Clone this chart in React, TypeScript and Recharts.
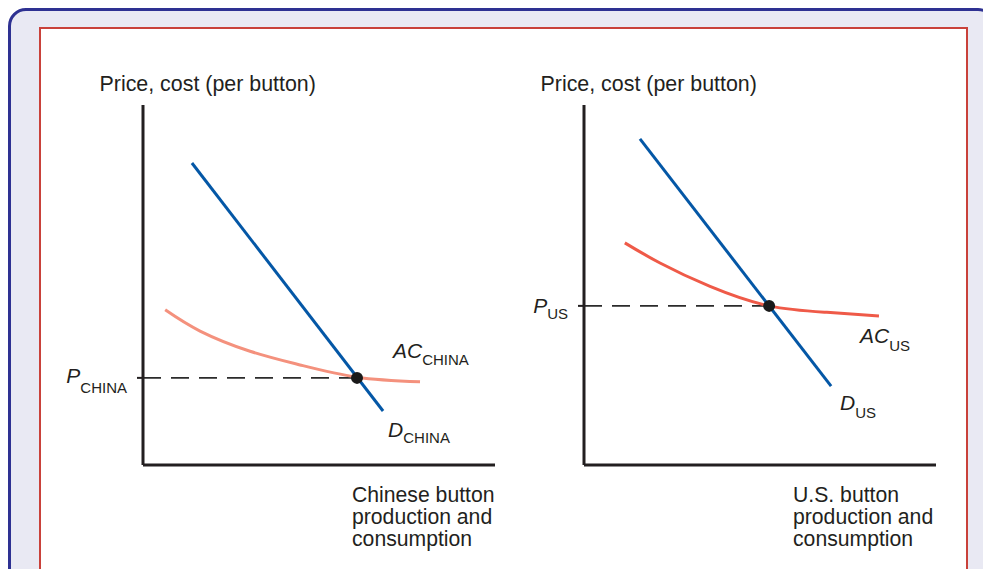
import { LineChart, Line, XAxis, YAxis, ReferenceDot } from "recharts"

// values, on a 0-100 scale for quantity (q) and price (p)
const chinaDemand = [
  { q: 13.9, p: 83.9 },
  { q: 68.2, p: 15.0 },
]
const chinaAvgCost = [
  { q: 6.3, p: 43.1 },
  { q: 16.2, p: 37.2 },
  { q: 30.4, p: 31.6 },
  { q: 44.6, p: 27.8 },
  { q: 60.8, p: 24.4 },
  { q: 78.7, p: 23.1 },
]
const chinaEquilibrium = { q: 60.8, p: 24.2 }

const usDemand = [
  { q: 15.9, p: 90.6 },
  { q: 70.2, p: 21.9 },
]
const usAvgCost = [
  { q: 11.6, p: 61.7 },
  { q: 21.6, p: 56.1 },
  { q: 35.8, p: 49.6 },
  { q: 52.6, p: 44.2 },
  { q: 69.0, p: 42.4 },
  { q: 83.8, p: 41.4 },
]
const usEquilibrium = { q: 52.6, p: 44.2 }

const yTitle = "Price, cost (per button)"
const chinaXTitle = ["Chinese button", "production and", "consumption"]
const usXTitle = ["U.S. button", "production and", "consumption"]

const INK = "#231f20"
const BLUE = "#0457a6"
const FONT = "'Liberation Sans', Arial, Helvetica, sans-serif"

function SubText({ x, y, main, sub, subDy, anchor = "start" }: any) {
  return (
    <text x={x} y={y} textAnchor={anchor} fill={INK} fontFamily={FONT}>
      <tspan fontSize={21} fontStyle="italic">{main}</tspan>
      <tspan fontSize={15} dy={subDy}>{sub}</tspan>
    </text>
  )
}

function Panel({ demand, cost, eq, sub, xTitle, costColor, box, margin, lbl }: any) {
  const priceLine = [
    { q: 0, p: eq.p },
    { q: eq.q, p: eq.p },
  ]
  const costEnd = cost[cost.length - 1]
  const demandEnd = demand[demand.length - 1]

  return (
    <div style={{ position: "absolute", left: box.left, top: box.top }}>
      <LineChart width={box.width} height={box.height} margin={margin} style={{ fontFamily: FONT }}>
        <XAxis
          type="number"
          dataKey="q"
          domain={[0, 100]}
          height={30}
          tick={false}
          tickLine={false}
          axisLine={{ stroke: INK, strokeWidth: 3 }}
          label={(p: any) => {
            const vb = p.viewBox
            return (
              <text x={vb.x + 209} y={vb.y + 37} fill={INK} fontFamily={FONT} fontSize={21.2}>
                {xTitle.map((t: string, i: number) => (
                  <tspan key={i} x={vb.x + 209} dy={i === 0 ? 0 : 22}>{t}</tspan>
                ))}
              </text>
            )
          }}
        />
        <YAxis
          type="number"
          dataKey="p"
          domain={[0, 100]}
          width={60}
          ticks={[eq.p]}
          tickSize={6}
          tickLine={{ stroke: INK, strokeWidth: 2 }}
          axisLine={{ stroke: INK, strokeWidth: 3 }}
          tick={(t: any) => (
            <SubText x={t.x - 8} y={t.y + lbl.pDy} main="P" sub={sub} subDy={lbl.pSub} anchor="end" />
          )}
          label={(p: any) => {
            const vb = p.viewBox
            return (
              <text x={vb.x + vb.width - 43.5} y={vb.y - 14} fill={INK} fontFamily={FONT} fontSize={21.4}>
                {yTitle}
              </text>
            )
          }}
        />
        <Line
          data={priceLine}
          dataKey="p"
          stroke="#2b2b2b"
          strokeWidth={1.8}
          strokeDasharray="18 10"
          dot={false}
          isAnimationActive={false}
        />
        <Line
          data={cost}
          dataKey="p"
          type="natural"
          stroke={costColor}
          strokeWidth={3}
          dot={false}
          isAnimationActive={false}
        />
        <Line
          data={demand}
          dataKey="p"
          stroke={BLUE}
          strokeWidth={3}
          dot={false}
          isAnimationActive={false}
        />
        <ReferenceDot x={eq.q} y={eq.p} r={6} fill="#1a1a1a" stroke="none" />
        <ReferenceDot
          x={costEnd.q}
          y={costEnd.p}
          r={0}
          stroke="none"
          label={(p: any) => (
            <SubText x={p.viewBox.x + lbl.ac[0]} y={p.viewBox.y + lbl.ac[1]} main="AC" sub={sub} subDy={lbl.ac[2]} />
          )}
        />
        <ReferenceDot
          x={demandEnd.q}
          y={demandEnd.p}
          r={0}
          stroke="none"
          label={(p: any) => (
            <SubText x={p.viewBox.x + lbl.d[0]} y={p.viewBox.y + lbl.d[1]} main="D" sub={sub} subDy={lbl.d[2]} />
          )}
        />
      </LineChart>
    </div>
  )
}

export default function App() {
  return (
    <div style={{ position: "relative", width: 983, height: 561, overflow: "hidden" }}>
      <div
        style={{
          position: "absolute",
          left: 0,
          top: 0,
          width: 988,
          height: 640,
          boxSizing: "border-box",
          border: "3px solid #2e3192",
          borderRadius: 18,
          background: "#e9e9f3",
        }}
      />
      <div
        style={{
          position: "absolute",
          left: 31,
          top: 19,
          width: 929,
          height: 640,
          boxSizing: "border-box",
          border: "2px solid #c9413a",
          background: "#ffffff",
        }}
      />
      <Panel
        demand={chinaDemand}
        cost={chinaAvgCost}
        eq={chinaEquilibrium}
        sub="CHINA"
        xTitle={chinaXTitle}
        costColor="#f4917d"
        box={{ left: 32, top: 52, width: 470, height: 510 }}
        margin={{ top: 45, right: 15, bottom: 75, left: 43 }}
        lbl={{ pDy: 5.5, pSub: 9.5, ac: [-27, -24, 7], d: [5, 26, 6] }}
      />
      <Panel
        demand={usDemand}
        cost={usAvgCost}
        eq={usEquilibrium}
        sub="US"
        xTitle={usXTitle}
        costColor="#ef5a48"
        box={{ left: 497, top: 52, width: 465, height: 510 }}
        margin={{ top: 45, right: 34, bottom: 75, left: 19 }}
        lbl={{ pDy: 7, pSub: 6, ac: [-19, 27, 8], d: [9, 24, 8] }}
      />
    </div>
  )
}
